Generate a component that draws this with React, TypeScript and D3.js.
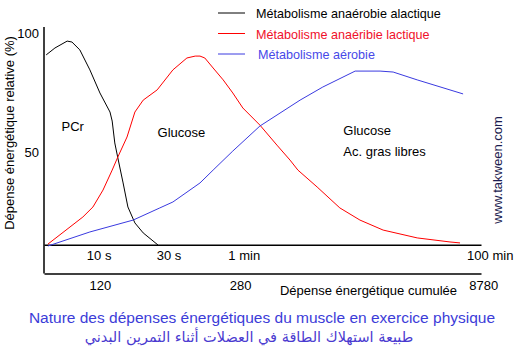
import React, { useEffect, useRef } from 'react';
import * as d3 from 'd3';

// x: position along the time axis (arbitrary units 0-100), y: relative expenditure (%)
const alactique: [number, number][] = [
  [0.5, 90.8], [2.5, 93.7], [5.3, 96.6], [6.4, 96.2], [8.2, 92.9], [10.5, 84.5],
  [12.8, 74.8], [15.1, 66.8], [15.6, 63.0], [16.2, 53.8], [16.9, 47.5], [18.1, 37.0],
  [19.2, 26.9], [20.8, 20.2], [22.7, 16.0], [26.1, 10.9],
];
const lactique: [number, number][] = [
  [0.9, 11.3], [8.9, 22.7], [11.2, 26.9], [13.5, 34.0], [15.6, 42.4], [16.9, 47.9],
  [19.0, 56.3], [20.8, 66.8], [22.7, 71.8], [25.9, 76.1], [29.5, 84.5], [32.7, 89.5],
  [34.6, 90.3], [35.7, 90.3], [36.8, 89.5], [38.7, 85.3], [41.0, 80.3], [43.2, 74.8],
  [45.5, 68.5], [49.4, 61.3], [53.3, 52.9], [56.3, 46.6], [58.1, 42.4], [62.5, 35.3],
  [67.7, 26.5], [72.3, 21.4], [77.6, 17.2], [85.4, 13.9], [92.9, 12.2], [95.2, 11.8],
];
const aerobie: [number, number][] = [
  [0.9, 10.5], [10.5, 16.4], [20.4, 21.4], [26.5, 26.5], [29.5, 29.0], [35.7, 37.0],
  [38.7, 42.4], [43.2, 50.4], [49.4, 60.9], [58.6, 71.8], [63.8, 77.3], [71.2, 84.0],
  [76.9, 84.0], [79.9, 83.6], [85.4, 80.3], [95.9, 74.4],
];

const seriesNames = [
  'Métabolisme anaérobie alactique',
  'Métabolisme anaéribie lactique',
  'Métabolisme aérobie',
];
const seriesColors = ['#000000', '#ff0000', '#3a3ae0'];
const legendTextColors = ['#000000', '#f0102a', '#4848e8'];

const timeTickPos = [12.5, 28.5, 45.7, 102];
const timeTickLabels = ['10 s', '30 s', '1 min', '100 min'];
const cumulTickPos = [12.8, 44.9, 100.5];
const cumulTickLabels = ['120', '280', '8780'];
const yTicks = [50, 100];

const zoneLabels = [
  { x: 4, y: 59, lines: ['PCr'] },
  { x: 26, y: 56.5, lines: ['Glucose'] },
  { x: 68.5, y: 57, lines: ['Glucose', 'Ac. gras libres'] },
];

const FONT = 'Arial, "Liberation Sans", sans-serif';

const App = () => {
  const svgRef = useRef<SVGSVGElement>(null);

  useEffect(() => {
    document.body.style.margin = '0';
    const svg = d3.select(svgRef.current);
    svg.selectAll('*').remove();

    const width = 517;
    const height = 358;

    const x = d3.scaleLinear().domain([0, 100]).range([44, 481]);
    const y = d3.scaleLinear().domain([0, 100]).range([271, 33]);

    svg.append('rect').attr('width', width).attr('height', height).attr('fill', '#fff');

    // axes lines
    svg.append('line')
      .attr('x1', x(0)).attr('x2', x(0))
      .attr('y1', y(102.5)).attr('y2', y(-1))
      .attr('stroke', '#000').attr('stroke-width', 1.5);

    const timeAxis = svg.append('g')
      .attr('transform', `translate(0,${y(11)})`)
      .call(d3.axisBottom(x).tickValues(timeTickPos).tickSize(0).tickPadding(6)
        .tickFormat((d, i) => timeTickLabels[i]));
    const cumulAxis = svg.append('g')
      .attr('transform', `translate(0,${y(-1)})`)
      .call(d3.axisBottom(x).tickValues(cumulTickPos).tickSize(0).tickPadding(7)
        .tickFormat((d, i) => cumulTickLabels[i]));
    [timeAxis, cumulAxis].forEach(g => {
      g.select('.domain').attr('stroke', '#000').attr('stroke-width', 1.5);
      g.selectAll('text').attr('font-family', FONT).attr('font-size', 13).attr('fill', '#000');
    });

    const yAxis = svg.append('g')
      .attr('transform', `translate(${x(0)},0)`)
      .call(d3.axisLeft(y).tickValues(yTicks).tickSize(0).tickPadding(5));
    yAxis.select('.domain').remove();
    yAxis.selectAll('text').attr('font-family', FONT).attr('font-size', 13).attr('fill', '#000');

    svg.append('text')
      .attr('transform', `translate(14,${y(58)}) rotate(-90)`)
      .attr('text-anchor', 'middle')
      .attr('font-family', FONT).attr('font-size', 13)
      .text('Dépense énergétique relative (%)');

    svg.append('text')
      .attr('x', x(54)).attr('y', y(-1) + 22)
      .attr('font-family', FONT).attr('font-size', 13)
      .text('Dépense énergétique cumulée');

    // curves
    const line = d3.line<[number, number]>()
      .x(d => x(d[0]))
      .y(d => y(d[1]));

    [alactique, lactique, aerobie].forEach((data, i) => {
      svg.append('path')
        .datum(data)
        .attr('d', line)
        .attr('fill', 'none')
        .attr('stroke', seriesColors[i])
        .attr('stroke-width', 1);
    });

    // zone labels
    zoneLabels.forEach(z => {
      const t = svg.append('text')
        .attr('font-family', FONT).attr('font-size', 13)
        .attr('x', x(z.x)).attr('y', y(z.y));
      z.lines.forEach((l, i) => {
        t.append('tspan').attr('x', x(z.x)).attr('dy', i === 0 ? 0 : 21).text(l);
      });
    });

    // legend
    const legend = svg.append('g').attr('transform', 'translate(218,13)');
    seriesNames.forEach((name, i) => {
      const row = legend.append('g').attr('transform', `translate(0,${i * 20.5})`);
      row.append('line').attr('x1', 0).attr('x2', 27).attr('y1', 0).attr('y2', 0)
        .attr('stroke', seriesColors[i]).attr('stroke-width', 1);
      row.append('text').attr('x', i === 2 ? 40 : 38).attr('y', 5)
        .attr('font-family', FONT).attr('font-size', 12.6)
        .attr('fill', legendTextColors[i]).text(name);
    });

    // watermark
    svg.append('text')
      .attr('transform', 'translate(502,170) rotate(-90)')
      .attr('text-anchor', 'middle')
      .attr('font-family', FONT).attr('font-size', 13)
      .attr('fill', '#1c1c50')
      .text('www.takween.com');

    // titles
    svg.append('text')
      .attr('x', 262).attr('y', 323)
      .attr('text-anchor', 'middle')
      .attr('font-family', FONT).attr('font-size', 15.5)
      .attr('fill', '#3c3cd8')
      .text('Nature des dépenses énergétiques du muscle en exercice physique');
    svg.append('text')
      .attr('x', 249).attr('y', 342)
      .attr('text-anchor', 'middle')
      .attr('direction', 'rtl')
      .attr('font-family', '"DejaVu Sans", sans-serif').attr('font-size', 14.5)
      .attr('fill', '#4a3ad0')
      .text('طبيعة استهلاك الطاقة في العضلات أثناء التمرين البدني');
  }, []);

  return <svg ref={svgRef} width={517} height={358} style={{ display: 'block' }} />;
};

export default App;
